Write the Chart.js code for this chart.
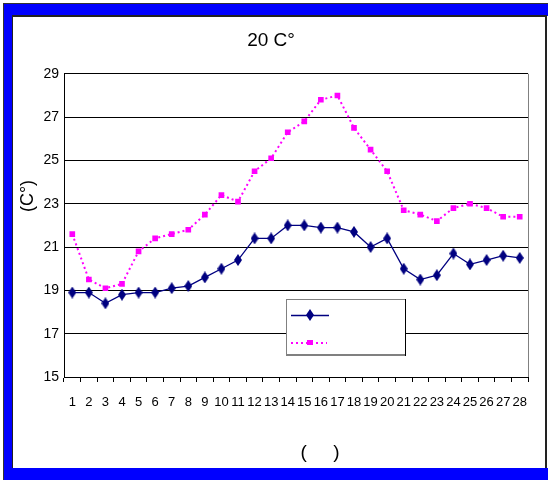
<!DOCTYPE html>
<html><head><meta charset="utf-8">
<script src="https://cdn.jsdelivr.net/npm/chart.js@4/dist/chart.umd.min.js"></script>
<style>html,body{margin:0;padding:0;background:#fff}#wrap{width:548px;height:480px;position:relative}</style>
</head><body><div id="wrap"><canvas id="c" width="548" height="480"></canvas></div>
<script>
const days = ['1','2','3','4','5','6','7','8','9','10','11','12','13','14','15','16','17','18','19','20','21','22','23','24','25','26','27','28'];
const seriesA = [18.9,18.9,18.4,18.8,18.9,18.9,19.1,19.2,19.6,20.0,20.4,21.4,21.4,22.0,22.0,21.9,21.9,21.7,21.0,21.4,20.0,19.5,19.7,20.7,20.2,20.4,20.6,20.5];
const seriesB = [21.6,19.5,19.1,19.3,20.8,21.4,21.6,21.8,22.5,23.4,23.1,24.5,25.1,26.3,26.8,27.8,28.0,26.5,25.5,24.5,22.7,22.5,22.2,22.8,23.0,22.8,22.4,22.4];
const yMin = 15, yMax = 29, yStep = 2;
const chartTitle = '20 C°';
const yTitle = '(C°)';
const xTitle = '(     )';
const FONT = "'Liberation Sans', Arial, sans-serif";

// tall diamond marker
const dia = document.createElement('canvas');
dia.width = 8; dia.height = 12;
(function(){const g = dia.getContext('2d'); g.fillStyle = '#000080'; g.beginPath();
 g.moveTo(4,0); g.lineTo(8,6); g.lineTo(4,12); g.lineTo(0,6); g.closePath(); g.fill();})();

const framePlugin = {
  id: 'frame',
  beforeDraw(chart) {
    const ctx = chart.ctx;
    ctx.save();
    ctx.fillStyle = '#fff'; ctx.fillRect(0,0,548,480);
    ctx.fillStyle = '#333'; ctx.fillRect(3,3,545,477);
    ctx.fillStyle = '#0000ff'; ctx.fillRect(4,4,544,476);
    ctx.fillStyle = '#222'; ctx.fillRect(12,15,535,453);
    ctx.fillStyle = '#fff'; ctx.fillRect(13,17,532,451);
    ctx.fillStyle = '#fff'; ctx.fillRect(547,16,1,452);
    ctx.restore();
  },
  afterDraw(chart) {
    const ctx = chart.ctx, a = chart.chartArea;
    ctx.save();
    // right border of plot area
    ctx.strokeStyle = '#808080'; ctx.lineWidth = 1;
    ctx.beginPath(); ctx.moveTo(Math.round(a.right)+0.5, a.top); ctx.lineTo(Math.round(a.right)+0.5, a.bottom); ctx.stroke();
    // axis titles
    ctx.fillStyle = '#000';
    ctx.font = '18px ' + FONT;
    ctx.textAlign = 'center'; ctx.textBaseline = 'middle';
    ctx.save(); ctx.translate(28,196); ctx.rotate(-Math.PI/2); ctx.fillText(yTitle,0,0); ctx.restore();
    ctx.font = '19px ' + FONT;
    ctx.fillText(xTitle, 320, 453);
    // legend box
    const lx = 286, ly = 299, lw = 119, lh = 56;
    ctx.fillStyle = '#fff'; ctx.fillRect(lx, ly, lw, lh);
    ctx.strokeStyle = '#808080'; ctx.lineWidth = 1;
    ctx.strokeRect(lx+0.5, ly+0.5, lw, lh);
    ctx.strokeStyle = '#000';
    ctx.beginPath(); ctx.moveTo(lx+lw+0.5, ly); ctx.lineTo(lx+lw+0.5, ly+lh+1); ctx.stroke();
    ctx.strokeStyle = '#808080'; ctx.lineWidth = 2;
    ctx.beginPath(); ctx.moveTo(lx, ly+lh); ctx.lineTo(lx+lw, ly+lh); ctx.stroke();
    // entry 1
    ctx.strokeStyle = '#000080'; ctx.lineWidth = 1.5;
    ctx.beginPath(); ctx.moveTo(291, 315.5); ctx.lineTo(329, 315.5); ctx.stroke();
    ctx.drawImage(dia, 306, 309);
    // entry 2
    ctx.strokeStyle = '#ff00ff'; ctx.lineWidth = 2; ctx.setLineDash([2,3]);
    ctx.beginPath(); ctx.moveTo(291, 343); ctx.lineTo(327, 343); ctx.stroke();
    ctx.setLineDash([]);
    ctx.fillStyle = '#ff00ff'; ctx.fillRect(307, 340, 6, 5);
    ctx.restore();
  }
};

new Chart(document.getElementById('c'), {
  type: 'line',
  data: {
    labels: days,
    datasets: [
      { label: '', data: seriesA, borderColor: '#000080', backgroundColor: '#000080', borderWidth: 1.3,
        pointStyle: dia, pointRadius: 5, tension: 0, fill: false },
      { label: '', data: seriesB, borderColor: '#ff00ff', backgroundColor: '#ff00ff', borderWidth: 2,
        borderDash: [2,3], pointStyle: 'rect', pointRadius: 4, pointBorderWidth: 0, tension: 0, fill: false }
    ]
  },
  options: {
    responsive: false, animation: false, devicePixelRatio: 1,
    layout: { padding: { left: 14, right: 20, top: 0, bottom: 12 } },
    plugins: {
      legend: { display: false },
      tooltip: { enabled: false },
      title: { display: true, text: chartTitle, color: '#000', font: { family: FONT, size: 19, weight: 'normal' },
               padding: { top: 29, bottom: 22 } }
    },
    scales: {
      x: {
        offset: true,
        grid: { offset: true, drawOnChartArea: false, drawTicks: true, tickLength: 5, color: '#000' },
        border: { color: '#000', width: 1 },
        ticks: { color: '#000', font: { family: FONT, size: 13 }, padding: 13, maxRotation: 0, autoSkip: false },
        afterFit(s) { s.height = 91; }
      },
      y: {
        min: yMin, max: yMax,
        grid: { color: '#000', drawTicks: false, lineWidth: 1 },
        border: { color: '#000', width: 1 },
        ticks: { stepSize: yStep, color: '#000', font: { family: FONT, size: 14 }, padding: 5 },
        afterFit(s) { s.width = 50; }
      }
    }
  },
  plugins: [framePlugin]
});
</script>
</body></html>
